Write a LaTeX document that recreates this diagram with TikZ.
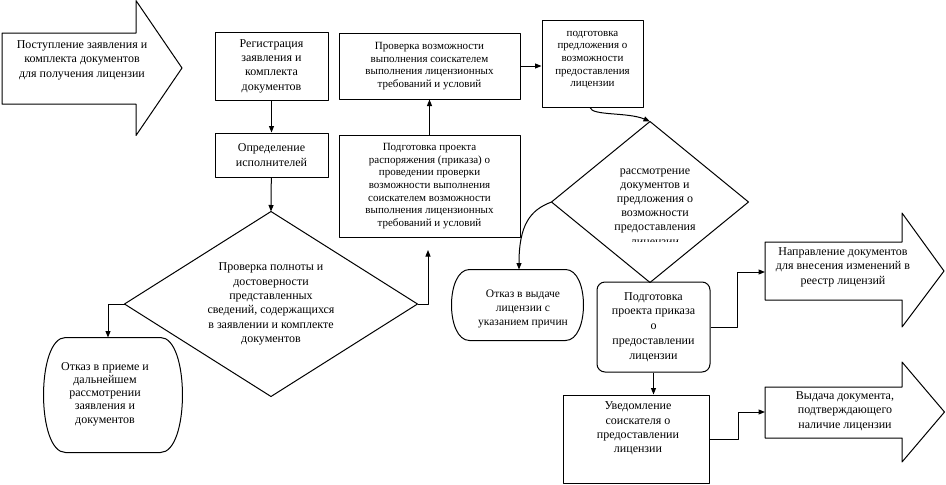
\documentclass[tikz,border=0pt]{standalone}
\usepackage{fontspec}
\setmainfont{Liberation Serif}
\usetikzlibrary{arrows.meta}
\begin{document}
\begin{tikzpicture}[x=1pt,y=-1pt,
  line width=1pt, line join=round,
  arr/.style={-{Triangle[length=6.5pt,width=5pt]}},
  txt/.style={align=center,font=\fontsize{12}{14.4}\selectfont,inner sep=0pt},
  stxt/.style={align=center,font=\fontsize{11}{12.7}\selectfont,inner sep=0pt},
  box/.style={draw,rectangle,inner sep=0pt},
  frame/.style={rectangle,inner sep=0pt,draw=none}
]
\useasboundingbox (0,0) rectangle (946,485);

% big input arrow
\draw (2,33) -- (136,33) -- (136,0.6) -- (182,68) -- (136,135.5) -- (136,104) -- (2,104) -- cycle;
\node[txt] (a1t) at (82,60) {Поступление заявления и\\комплекта документов\\для получения лицензии};

% left column
\node[box,txt,minimum width=113pt,minimum height=68pt] (reg) at (271.5,66) {Регистрация\\заявления и\\комплекта\\документов};
\node[box,txt,minimum width=113pt,minimum height=44pt] (opr) at (271.5,155) {Определение\\исполнителей};

% diamond 1
\node[frame,txt,minimum width=292pt,minimum height=184pt] (d1) at (271,304) {Проверка полноты и\\достоверности\\представленных\\сведений, содержащихся\\в заявлении и комплекте\\документов};
\draw (d1.north) -- (d1.east) -- (d1.south) -- (d1.west) -- cycle;

% refusal 1
\node[frame,minimum width=138pt,minimum height=114pt] (otk1) at (113,395) {};
\draw ([xshift=22pt]otk1.north west) -- ([xshift=-22pt]otk1.north east)
  .. controls ([xshift=7.3pt]otk1.north east) and ([xshift=7.3pt]otk1.south east) .. ([xshift=-22pt]otk1.south east)
  -- ([xshift=22pt]otk1.south west)
  .. controls ([xshift=-7.3pt]otk1.south west) and ([xshift=-7.3pt]otk1.north west) .. ([xshift=22pt]otk1.north west) -- cycle;
\node[txt,font=\fontsize{12}{13.2}\selectfont] (otk1t) at (105,394) {Отказ в приеме и\\дальнейшем\\рассмотрении\\заявления и\\документов};

% middle column
\node[box,stxt,minimum width=181pt,minimum height=66pt] (prov) at (429.5,66) {Проверка возможности\\выполнения соискателем\\выполнения лицензионных\\требований и условий};
\node[box,stxt,minimum width=181pt,minimum height=102pt] (podpr) at (429.5,186) {Подготовка проекта\\распоряжения (приказа) о\\проведении проверки\\возможности выполнения\\соискателем возможности\\выполнения лицензионных\\требований и условий};
\coordinate (upend) at (428,250);

% proposal box
\node[box,minimum width=101pt,minimum height=87pt] (predl) at (592.5,63.5) {};
\node[stxt] (predlt) at (592.5,60) {подготовка\\предложения о\\возможности\\предоставления\\лицензии};

% diamond 2
\node[frame,minimum width=196pt,minimum height=160pt] (d2) at (650,202) {};
\draw (d2.north) -- (d2.east) -- (d2.south) -- (d2.west) -- cycle;
\begin{scope}
\clip (560,150) rectangle (740,241);
\node[txt,font=\fontsize{12}{14.2}\selectfont] (d2t) at (655,208) {рассмотрение\\документов и\\предложения о\\возможности\\предоставления\\лицензии};
\end{scope}

% refusal 2
\node[frame,minimum width=131pt,minimum height=70pt] (otk2) at (517.5,305) {};
\draw ([xshift=18pt]otk2.north west) -- ([xshift=-18pt]otk2.north east)
  .. controls ([xshift=6pt]otk2.north east) and ([xshift=6pt]otk2.south east) .. ([xshift=-18pt]otk2.south east)
  -- ([xshift=18pt]otk2.south west)
  .. controls ([xshift=-6pt]otk2.south west) and ([xshift=-6pt]otk2.north west) .. ([xshift=18pt]otk2.north west) -- cycle;
\node[txt,font=\fontsize{11.5}{14}\selectfont] (otk2t) at (523,309) {Отказ в выдаче\\лицензии с\\указанием причин};

% order draft
\node[box,txt,rounded corners=8pt,minimum width=113pt,minimum height=90pt,font=\fontsize{12}{14.8}\selectfont] (prikaz) at (653.5,327) {Подготовка\\проекта приказа\\о\\предоставлении\\лицензии};

% notification
\node[box,minimum width=146pt,minimum height=88pt] (uved) at (636,439) {};
\node[txt] (uvedt) at (638,428.5) {Уведомление\\соискателя о\\предоставлении\\лицензии};

% output arrows
\draw (765,242) -- (902,242) -- (902,213) -- (944,271) -- (902,327) -- (902,300) -- (765,300) -- cycle;
\node[txt] (naprt) at (843,267) {Направление документов\\для внесения изменений в\\реестр лицензий};
\coordinate (naprin) at (765,272);
\draw (765,387) -- (902,387) -- (902,362) -- (944.5,412) -- (902,462) -- (902,438) -- (765,438) -- cycle;
\node[txt] (vydt) at (845,411) {Выдача документа,\\подтверждающего\\наличие лицензии};
\coordinate (vydin) at (765,412);

% connectors
\draw[arr] (reg) -- (opr);
\draw[arr] (opr) -- (d1.north);
\draw[arr] (d1.west) -| ([xshift=-5pt]otk1.north);
\draw[arr] (d1.east) -| (upend);
\draw[arr] (podpr) -- (prov);
\draw[arr] (prov.east) -- (prov.east -| predl.west);
\draw[arr] ([xshift=-2.5pt]predl.south) .. controls (592,116) and (628,112) .. (d2.north);
\draw[arr] (d2.west) .. controls (530,210) and (519,225) .. ([xshift=1.5pt]otk2.north);
\draw[arr] (prikaz.east) -- ++(27,0) |- (naprin);
\draw[arr] (prikaz.south) -- (prikaz.south |- uved.north);
\draw[arr] (uved.east) -- ++(29,0) |- (vydin);
\end{tikzpicture}
\end{document}
